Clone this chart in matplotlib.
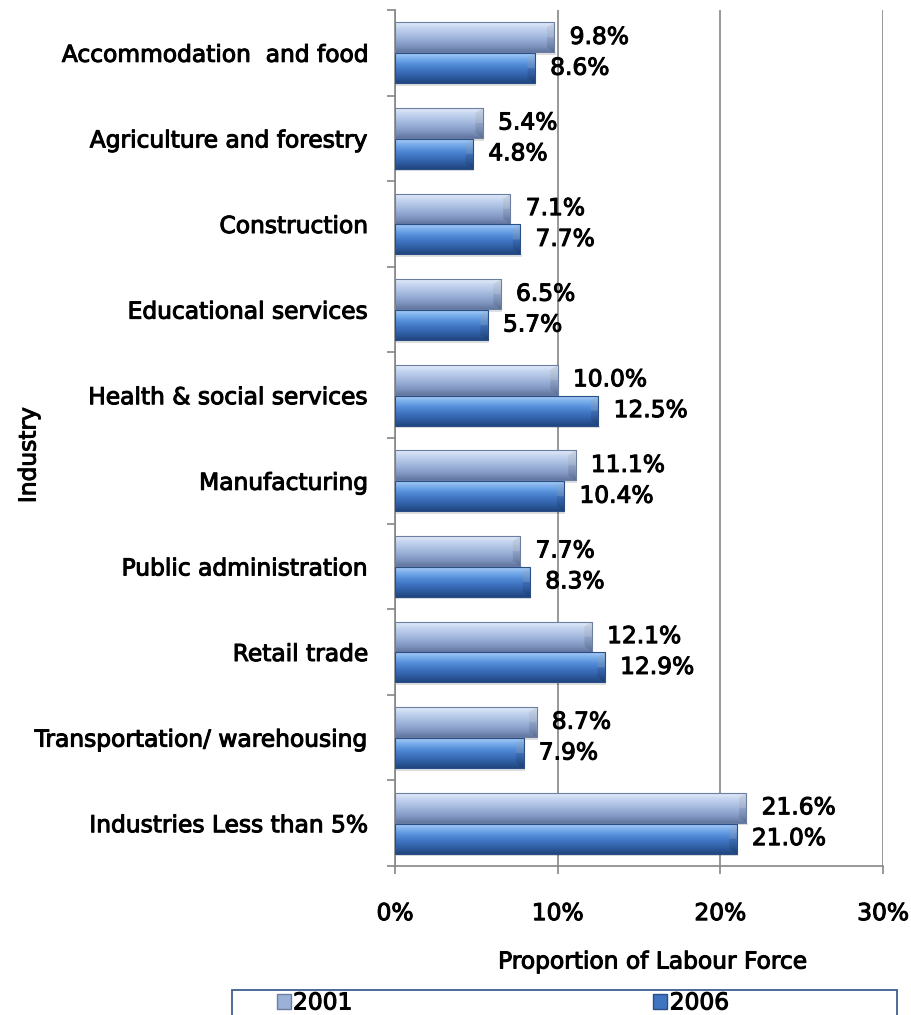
import numpy as np
import matplotlib
matplotlib.use("Agg")
import matplotlib.pyplot as plt
from matplotlib.patches import Rectangle, Patch, Polygon
from matplotlib.colors import LinearSegmentedColormap
import matplotlib.patheffects as pe

plt.rcParams['font.family'] = ['DejaVu Sans']

categories = [
    "Accommodation  and food",
    "Agriculture and forestry",
    "Construction",
    "Educational services",
    "Health & social services",
    "Manufacturing",
    "Public administration",
    "Retail trade",
    "Transportation/ warehousing",
    "Industries Less than 5%",
]
values_2001 = [9.8, 5.4, 7.1, 6.5, 10.0, 11.1, 7.7, 12.1, 8.7, 21.6]
values_2006 = [8.6, 4.8, 7.7, 5.7, 12.5, 10.4, 8.3, 12.9, 7.9, 21.0]
series_labels = ["2001", "2006"]
x_ticks = [0, 10, 20, 30]
x_tick_labels = ["0%", "10%", "20%", "30%"]

FS = 16.8
bold_fx = [pe.withStroke(linewidth=0.75, foreground="black")]

W, H = 912, 1015
fig = plt.figure(figsize=(W / 100, H / 100), dpi=100)
ax = fig.add_axes([395 / W, 1 - 866 / H, (883 - 395) / W, (866 - 10) / H])

y = np.arange(len(categories))
bh = 0.35
off = 0.18

bars01 = ax.barh(y - off, values_2001, height=bh, color="#9bb1d8",
                 edgecolor="#6c7fa3", linewidth=0.6, zorder=3)
bars06 = ax.barh(y + off, values_2006, height=bh, color="#3f75c0",
                 edgecolor="#2a4f86", linewidth=0.6, zorder=3)

ax.set_xlim(0, 30)
ax.set_ylim(len(categories) - 0.5, -0.5)

# Vertical gradient fill for each bar (top light -> bottom dark)
cmap01 = LinearSegmentedColormap.from_list(
    "g01", ["#e2ebf8", "#c3d4ef", "#adc1e3", "#96acd4", "#8096c0", "#62769f"])
cmap06 = LinearSegmentedColormap.from_list(
    "g06", ["#a5cbf6", "#74a9ea", "#5089d5", "#3d71be", "#2e5ca1", "#21467f"])
grad = np.linspace(0, 1, 64).reshape(-1, 1)

for bars, cmap in ((bars01, cmap01), (bars06, cmap06)):
    for p in bars:
        x0, y0 = p.get_x(), p.get_y()
        w, h = p.get_width(), p.get_height()
        im = ax.imshow(grad, cmap=cmap, aspect="auto", origin="lower",
                       extent=(x0, x0 + w, y0, y0 + h), zorder=3.5,
                       interpolation="bilinear")
        im.set_clip_path(p)
        # bevelled end facets
        c = 0.45
        ax.add_patch(Polygon([(x0 + w - c, y0 + 0.06), (x0 + w, y0),
                              (x0 + w, y0 + h), (x0 + w - c, y0 + h - 0.06)],
                             closed=True, facecolor="black", alpha=0.10,
                             linewidth=0, zorder=3.6))
        ax.add_patch(Polygon([(x0 + w - c, y0 + 0.06), (x0 + w, y0),
                              (x0 + w, y0 + h / 2), (x0 + w - c, y0 + h / 2)],
                             closed=True, facecolor="white", alpha=0.15,
                             linewidth=0, zorder=3.6))
        ax.add_patch(Rectangle((x0, y0), w, h, facecolor="none",
                               edgecolor=p.get_edgecolor(), linewidth=0.8,
                               zorder=3.7))
        # soft shadow under the bar
        ax.add_patch(Rectangle((x0 + 0.08, y0 + h), w, 0.03,
                               facecolor="#000000", alpha=0.12,
                               linewidth=0, zorder=2.9))

# Value labels
for bars, vals in ((bars01, values_2001), (bars06, values_2006)):
    for p, v in zip(bars, vals):
        ax.annotate(f"{v:.1f}%", xy=(v, p.get_y() + p.get_height() / 2),
                    xytext=(11, 0), textcoords="offset points",
                    ha="left", va="center", fontsize=FS, color="black",
                    path_effects=bold_fx, zorder=5)

# Grid and axes styling
ax.set_xticks(x_ticks)
ax.set_xticklabels(x_tick_labels)
ax.xaxis.grid(True, color="#868686", linewidth=1.2, zorder=1)
ax.set_axisbelow(True)
ax.set_yticks(np.arange(len(categories) + 1) - 0.5, minor=False)
ax.set_yticklabels([])
ax.set_yticks(y, minor=True)
ax.set_yticklabels(categories, minor=True)
ax.tick_params(axis="y", which="major", length=6, width=1.2, color="#868686",
               direction="out")
ax.tick_params(axis="y", which="minor", length=0, pad=19, labelsize=FS)
ax.tick_params(axis="x", length=6, width=1.2, color="#868686", pad=20,
               labelsize=FS)
for lbl in ax.get_xticklabels() + ax.get_yticklabels(minor=True):
    lbl.set_path_effects(bold_fx)

for side in ("top", "right"):
    ax.spines[side].set_visible(False)
for side in ("left", "bottom"):
    ax.spines[side].set_color("#868686")
    ax.spines[side].set_linewidth(1.2)

ax.set_xlabel("Proportion of Labour Force", fontsize=FS, path_effects=bold_fx)
ax.xaxis.set_label_coords((653 - 395) / (883 - 395), -(962 - 866) / (866 - 10))
ax.xaxis.label.set_va("center")

fig.text(29 / W, 1 - 455 / H, "Industry", rotation=90, fontsize=FS,
         ha="center", va="center", path_effects=bold_fx)

# Legend box, running past the lower edge of the figure
fig.patches.append(Rectangle((232 / W, 1 - 1040 / H), (897 - 232) / W, 50 / H,
                             transform=fig.transFigure, facecolor="white",
                             edgecolor="#3f5f8f", linewidth=1.3))
handles = [Patch(facecolor="#9bb1d8", edgecolor="#6c7fa3"),
           Patch(facecolor="#3f75c0", edgecolor="#2a4f86")]
leg = fig.legend(handles, series_labels, loc="center left",
                 bbox_to_anchor=(265 / W, 1 - 1003 / H), ncol=2, frameon=False,
                 fontsize=FS, handlelength=0.6, handleheight=0.6,
                 handletextpad=0.1, columnspacing=12.9, borderpad=0)
for t in leg.get_texts():
    t.set_path_effects(bold_fx)

fig.savefig("out.png", dpi=100)
